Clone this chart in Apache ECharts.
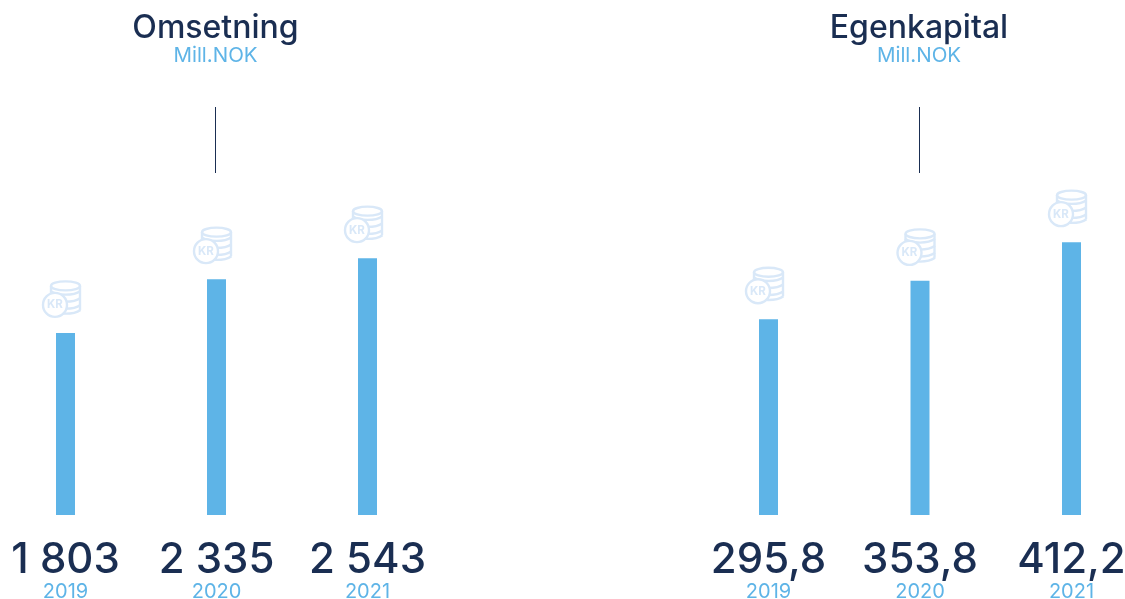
<!DOCTYPE html>
<html><head><meta charset="utf-8">
<style>html,body{margin:0;padding:0;background:#fff}#c{width:1125px;height:599px}</style>
<script src="https://cdn.jsdelivr.net/npm/echarts@6/dist/echarts.min.js"></script>
</head><body><div id="c"></div>
<script>
const years = ['2019', '2020', '2021'];
const omsetning = [1803, 2335, 2543];
const egenkapital = [295.8, 353.8, 412.2];
const omsetningLabels = ['1 803', '2 335', '2 543'];
const egenkapitalLabels = ['295,8', '353,8', '412,2'];
const unit = 'Mill.NOK';
const DARK = '#1a2e52', BLUE = '#5eb4e7', ICON = '#d9e8f8', FONT = 'Inter';

function coinIcon(params, api) {
  const p = api.coord([api.value(0), api.value(1)]);
  const x = p[0], y = p[1];
  const stroke = { stroke: ICON, fill: null, lineWidth: 2.4 };
  const arc = dy => ({ type: 'bezierCurve', shape: {
      x1: x - 15, y1: y + dy, x2: x + 15, y2: y + dy,
      cpx1: x - 8, cpy1: y + dy + 5, cpx2: x + 8, cpy2: y + dy + 5 }, style: stroke });
  return { type: 'group', silent: true, children: [
    { type: 'ellipse', shape: { cx: x, cy: y - 47, rx: 14.5, ry: 4.5 }, style: stroke },
    { type: 'line', shape: { x1: x - 14.5, y1: y - 47, x2: x - 14.5, y2: y - 23 }, style: stroke },
    { type: 'line', shape: { x1: x + 14.5, y1: y - 47, x2: x + 14.5, y2: y - 23 }, style: stroke },
    arc(-42), arc(-35), arc(-28), arc(-23),
    { type: 'circle', shape: { cx: x - 10.5, cy: y - 28, r: 12 }, style: { stroke: ICON, fill: '#fff', lineWidth: 2.4 } },
    { type: 'text', x: x - 10.5, y: y - 28, style: { text: 'KR', fill: ICON, font: 'bold 11.5px ' + FONT, align: 'center', verticalAlign: 'middle' } }
  ] };
}

function xAxisFor(gridIndex, labels) {
  return {
    type: 'category', gridIndex, data: years, boundaryGap: false,
    axisLine: { show: false }, axisTick: { show: false },
    axisLabel: {
      margin: 22, interval: 0, verticalAlign: 'top', showMinLabel: true, showMaxLabel: true,
      formatter: (v, i) => '{v|' + labels[i] + '}\n{y|' + v + '}',
      rich: {
        v: { fontFamily: FONT, fontSize: 42, fontWeight: 500, color: DARK, lineHeight: 47, align: 'center' },
        y: { fontFamily: FONT, fontSize: 20, color: BLUE, lineHeight: 15, align: 'center' }
      }
    }
  };
}
const yAxisFor = (gridIndex, max) => ({ type: 'value', gridIndex, min: 0, max, show: false, splitLine: { show: false } });
const barFor = (i, data) => ({ type: 'bar', xAxisIndex: i, yAxisIndex: i, data, barWidth: 19, clip: false, itemStyle: { color: BLUE }, silent: true });
const iconFor = (i, data) => ({ type: 'custom', xAxisIndex: i, yAxisIndex: i, data: data.map((v, k) => [k, v]), renderItem: coinIcon, silent: true, clip: false });
const titleFor = (text, cx) => ([
  { text, left: cx, top: 12, padding: 0, textAlign: 'center', textStyle: { fontFamily: FONT, fontSize: 32, fontWeight: 500, color: DARK } },
  { text: unit, left: cx, top: 45, padding: 0, textAlign: 'center', textStyle: { fontFamily: FONT, fontSize: 20.5, fontWeight: 400, color: BLUE } }
]);
const rule = cx => ({ type: 'line', shape: { x1: cx, y1: 107, x2: cx, y2: 173 }, style: { stroke: DARK, lineWidth: 1 } });

const chart = echarts.init(document.getElementById('c'), null, { renderer: 'canvas' });
chart.setOption({
  animation: false, backgroundColor: '#fff',
  title: [...titleFor('Omsetning', 215.5), ...titleFor('Egenkapital', 919)],
  graphic: [rule(215.5), rule(919.5)],
  grid: [
    { left: 65.5, top: 100, width: 302, height: 415, outerBoundsMode: 'none' },
    { left: 768.5, top: 100, width: 303, height: 415, outerBoundsMode: 'none' }
  ],
  xAxis: [xAxisFor(0, omsetningLabels), xAxisFor(1, egenkapitalLabels)],
  yAxis: [yAxisFor(0, 4109), yAxisFor(1, 627)],
  series: [barFor(0, omsetning), barFor(1, egenkapital), iconFor(0, omsetning), iconFor(1, egenkapital)]
});
</script></body></html>
